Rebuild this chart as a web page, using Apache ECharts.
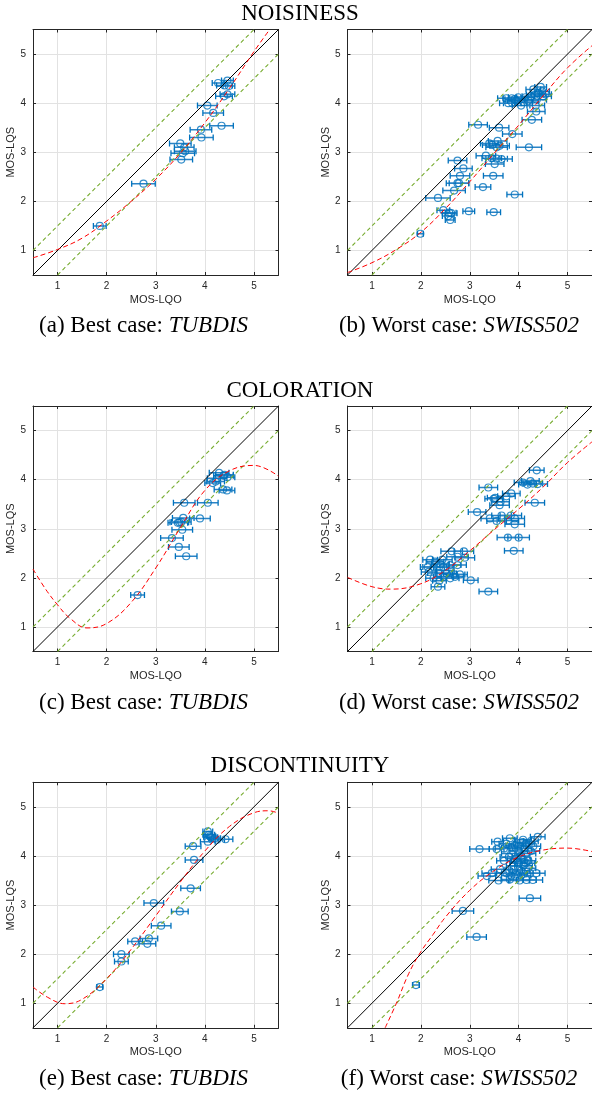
<!DOCTYPE html>
<html><head><meta charset="utf-8">
<script src="https://cdn.jsdelivr.net/npm/echarts@6/dist/echarts.min.js"></script>
<style>html,body{margin:0;padding:0;background:#fff}#c{width:592px;height:1095px}</style>
</head><body><div id="c"></div>
<script>
// ---------- data ----------
const tickValues = [1, 2, 3, 4, 5];
const axisMin = 0.5, axisMax = 5.5;
const sectionTitles = ['NOISINESS', 'COLORATION', 'DISCONTINUITY'];
const captionLead = ['(a) Best case: ', '(b) Worst case: ', '(c) Best case: ', '(d) Worst case: ', '(e) Best case: ', '(f) Worst case: '];
const captionName = ['TUBDIS', 'SWISS502', 'TUBDIS', 'SWISS502', 'TUBDIS', 'SWISS502'];
const refOffsets = [0.5, 0, -0.5];   // y = x + offset
const refSpan = [0.5, 5.5];

// [MOS-LQO, MOS-LQS, CI half-width]
const ptsA = [
 [1.86,1.50,0.13],[2.75,2.36,0.24],[3.52,2.85,0.23],[3.55,2.98,0.24],[3.60,3.02,0.22],
 [3.58,3.10,0.20],[3.50,3.18,0.22],[3.93,3.30,0.24],[3.92,3.46,0.22],[4.34,3.54,0.24],
 [4.17,3.80,0.21],[4.05,3.95,0.20],[4.39,4.14,0.17],[4.46,4.18,0.15],[4.27,4.41,0.12],
 [4.40,4.36,0.16],[4.46,4.46,0.12],[4.49,4.35,0.12]
];
const ptsB = [
 [1.99,1.34,0.06],[2.35,2.07,0.25],[2.46,1.82,0.13],[2.58,1.77,0.14],[2.62,1.76,0.12],
 [2.56,1.70,0.12],[2.60,1.62,0.10],[2.98,1.80,0.12],[3.49,1.78,0.14],[3.92,2.14,0.16],
 [2.68,2.22,0.23],[2.75,2.37,0.23],[2.78,2.37,0.20],[3.27,2.29,0.16],[2.80,2.52,0.20],
 [3.48,2.52,0.20],[2.87,2.67,0.18],[2.75,2.83,0.19],[3.33,2.93,0.20],[3.55,2.87,0.22],
 [3.51,2.76,0.19],[3.65,2.86,0.22],[3.45,2.88,0.20],[4.21,3.10,0.26],[3.57,3.23,0.19],
 [3.46,3.15,0.20],[3.40,3.18,0.18],[3.61,3.13,0.20],[3.55,3.10,0.22],[3.87,3.37,0.20],
 [3.60,3.50,0.20],[3.17,3.56,0.19],[4.27,3.66,0.20],[4.36,3.83,0.18],[3.75,4.10,0.18],
 [3.86,4.10,0.18],[3.99,4.12,0.20],[4.14,4.12,0.18],[4.25,4.14,0.18],[4.33,4.17,0.17],
 [4.45,4.33,0.12],[4.48,4.24,0.15],[4.50,4.14,0.17],[4.37,4.07,0.20],[4.05,3.95,0.18],
 [3.87,4.00,0.18],[3.79,4.00,0.18],[4.35,3.95,0.18],[4.20,4.05,0.20],[3.95,4.05,0.18],
 [4.10,4.02,0.18],[4.40,4.20,0.15],[4.55,4.18,0.12],[4.30,4.28,0.15],[3.92,4.08,0.20]
];
const ptsC = [
 [2.63,1.65,0.14],[3.62,2.44,0.22],[3.47,2.63,0.21],[3.33,2.81,0.23],[3.54,2.98,0.21],
 [3.45,3.12,0.20],[3.52,3.14,0.20],[3.48,3.13,0.19],[3.56,3.22,0.22],[3.90,3.21,0.21],
 [3.58,3.53,0.22],[4.06,3.53,0.21],[4.16,3.93,0.16],[4.25,4.03,0.20],[4.29,4.14,0.20],
 [4.38,4.08,0.20],[4.46,4.05,0.15],[4.40,4.10,0.18],[4.37,3.80,0.18],[4.45,3.78,0.16],
 [4.22,3.96,0.18]
];
const ptsD = [
 [3.38,1.72,0.19],[3.02,1.95,0.15],[2.35,1.82,0.14],[2.38,1.94,0.14],[2.19,2.37,0.15],
 [2.44,2.37,0.20],[2.63,2.54,0.22],[2.88,2.54,0.20],[2.75,2.43,0.22],[2.90,2.41,0.20],
 [2.26,2.22,0.22],[2.14,2.22,0.15],[2.46,2.22,0.20],[2.60,2.26,0.22],[2.75,2.26,0.18],
 [2.36,2.10,0.22],[2.53,2.09,0.20],[2.68,2.07,0.22],[2.80,2.07,0.15],[2.46,2.02,0.20],
 [2.60,1.99,0.18],[2.70,2.02,0.18],[2.26,1.99,0.16],[2.16,2.12,0.15],[2.29,2.33,0.18],
 [2.50,2.15,0.18],[2.40,2.28,0.18],[3.90,2.55,0.19],[3.78,2.82,0.22],[4.00,2.82,0.22],
 [3.92,3.09,0.20],[3.92,3.21,0.20],[3.78,3.17,0.22],[3.55,3.16,0.20],[3.41,3.21,0.18],
 [3.65,3.27,0.20],[3.84,3.27,0.22],[3.15,3.34,0.18],[3.61,3.48,0.20],[3.63,3.55,0.18],
 [4.33,3.53,0.20],[3.49,3.61,0.18],[3.52,3.63,0.16],[3.85,3.72,0.18],[3.75,3.66,0.18],
 [3.38,3.84,0.19],[4.09,3.94,0.18],[4.24,3.97,0.18],[4.29,3.92,0.20],[4.39,3.91,0.20],
 [4.18,3.90,0.18],[4.37,4.19,0.15]
];
const ptsE = [
 [1.86,1.33,0.06],[2.30,1.85,0.14],[2.30,2.00,0.16],[2.58,2.26,0.15],[2.83,2.21,0.17],
 [2.86,2.32,0.18],[3.11,2.58,0.20],[3.49,2.87,0.17],[2.96,3.04,0.20],[3.71,3.34,0.20],
 [3.78,3.92,0.18],[3.76,4.20,0.16],[4.06,4.50,0.10],[4.08,4.43,0.12],[4.12,4.38,0.14],
 [4.25,4.33,0.15],[4.42,4.34,0.15],[4.06,4.29,0.15],[4.20,4.36,0.12],[4.10,4.40,0.12]
];
const ptsF = [
 [1.90,1.37,0.07],[3.14,2.35,0.20],[2.86,2.88,0.22],[4.23,3.14,0.22],[3.20,4.14,0.20],
 [3.57,4.29,0.12],[3.82,4.36,0.15],[4.09,4.33,0.17],[4.39,4.39,0.15],[3.55,4.14,0.15],
 [3.70,4.15,0.18],[3.85,4.17,0.20],[4.00,4.20,0.20],[4.15,4.25,0.18],[4.25,4.30,0.15],
 [3.62,3.73,0.18],[3.45,3.65,0.20],[3.35,3.59,0.18],[3.59,3.50,0.20],[3.82,3.52,0.18],
 [4.02,3.50,0.20],[4.16,3.51,0.20],[4.29,3.51,0.20],[4.23,3.65,0.20],[4.36,3.65,0.18],
 [3.95,3.62,0.20],[3.75,3.65,0.20],[3.90,3.80,0.15],[4.00,3.85,0.18],[4.10,3.80,0.18],
 [4.20,3.90,0.15],[3.95,3.95,0.18],[4.05,4.00,0.18],[4.15,4.05,0.20],[4.25,4.10,0.18],
 [3.85,4.05,0.20],[3.80,3.98,0.18],[4.10,3.92,0.15],[4.20,3.75,0.15],[4.05,3.70,0.18],
 [3.90,3.72,0.18],[4.00,4.10,0.18],[3.92,4.22,0.18],[4.12,4.15,0.15],[4.30,4.20,0.15],
 [3.75,4.25,0.15],[4.05,3.60,0.20],[3.85,3.60,0.20],[4.15,3.85,0.18],[3.98,3.88,0.15],
 [4.08,4.28,0.15],[3.70,3.90,0.15]
];

// fitted mapping curves
const fitA = [[0.5,0.85],[1.0,1.02],[1.5,1.25],[2.0,1.6],[2.5,2.0],[3.0,2.45],[3.5,2.98],[4.0,3.6],[4.5,4.3],[5.0,5.05],[5.32,5.5]];
const fitB = [[0.5,0.55],[1.0,0.75],[1.5,1.02],[2.0,1.37],[2.5,1.85],[3.0,2.4],[3.5,2.98],[4.0,3.55],[4.5,4.15],[5.0,4.72],[5.5,5.17]];
const fitC = [[0.5,2.18],[0.75,1.78],[1.0,1.45],[1.25,1.18],[1.6,0.98],[2.0,1.07],[2.5,1.5],[3.0,2.2],[3.5,3.02],[4.0,3.78],[4.5,4.18],[5.0,4.29],[5.5,4.07]];
const fitD = [[0.5,2.01],[1.0,1.82],[1.4,1.77],[2.0,1.88],[2.5,2.15],[3.0,2.55],[3.5,2.98],[4.0,3.4],[4.5,3.85],[5.0,4.35],[5.5,4.77]];
const fitE = [[0.5,1.33],[0.8,1.12],[1.15,0.99],[1.5,1.08],[2.0,1.5],[2.5,2.1],[3.0,2.78],[3.5,3.47],[4.0,4.1],[4.5,4.6],[5.0,4.88],[5.3,4.92],[5.5,4.87]];
const fitF = [[1.27,0.5],[1.5,1.0],[1.75,1.6],[2.0,2.05],[2.25,2.4],[2.5,2.75],[3.0,3.3],[3.5,3.7],[4.0,3.98],[4.5,4.12],[5.0,4.16],[5.5,4.09]];

// ---------- layout / styles ----------
const SANS = 'Liberation Sans, Arial, sans-serif';
const SERIF = 'Liberation Serif, Times New Roman, serif';
const BLUE = '#0072BD', GREEN = '#77AC30', RED = '#FF0000', AXC = '#262626';
const panels = [
  {pts: ptsA, fit: fitA}, {pts: ptsB, fit: fitB},
  {pts: ptsC, fit: fitC}, {pts: ptsD, fit: fitD},
  {pts: ptsE, fit: fitE}, {pts: ptsF, fit: fitF}
];
const lefts = [33, 347.5];
const tops = [29.5, 406, 782.3];
const S = 245.5;

const grid = [], xAxis = [], yAxis = [], series = [];

function errItem(params, api) {
  const x = api.value(0), y = api.value(1), e = api.value(2);
  const p1 = api.coord([x - e, y]), p2 = api.coord([x + e, y]);
  const h = 3;
  return {type: 'group', children: [
    {type: 'line', shape: {x1: p1[0], y1: p1[1], x2: p2[0], y2: p2[1]}, style: {stroke: '#2a84c6', lineWidth: 1.5}},
    {type: 'line', shape: {x1: p1[0], y1: p1[1] - h, x2: p1[0], y2: p1[1] + h}, style: {stroke: BLUE, lineWidth: 1.3}},
    {type: 'line', shape: {x1: p2[0], y1: p2[1] - h, x2: p2[0], y2: p2[1] + h}, style: {stroke: BLUE, lineWidth: 1.3}}
  ]};
}

panels.forEach((p, i) => {
  grid.push({left: lefts[i % 2], top: tops[Math.floor(i / 2)], width: S, height: S});
  [false, true].forEach(second => {
    xAxis.push({
      type: 'value', gridIndex: i, min: axisMin, max: axisMax,
      position: second ? 'top' : 'bottom',
      name: second ? '' : 'MOS-LQO', nameLocation: 'middle', nameGap: 19,
      nameTextStyle: {fontFamily: SANS, fontSize: 11, color: AXC},
      axisLine: {show: true, onZero: false, lineStyle: {color: AXC, width: 1}},
      axisTick: {show: true, inside: true, length: 3, customValues: tickValues, lineStyle: {color: AXC}},
      axisLabel: {show: !second, customValues: tickValues, fontFamily: SANS, fontSize: 10, color: AXC, margin: 6},
      splitLine: {show: !second, lineStyle: {color: '#e2e2e2', width: 1}}
    });
    yAxis.push({
      type: 'value', gridIndex: i, min: axisMin, max: axisMax,
      position: second ? 'right' : 'left',
      name: second ? '' : 'MOS-LQS', nameLocation: 'middle', nameGap: 11,
      nameTextStyle: {fontFamily: SANS, fontSize: 11, color: AXC},
      axisLine: {show: true, onZero: false, lineStyle: {color: AXC, width: 1}},
      axisTick: {show: true, inside: true, length: 3, customValues: tickValues, lineStyle: {color: AXC}},
      axisLabel: {show: !second, customValues: tickValues, fontFamily: SANS, fontSize: 10, color: AXC, margin: 7},
      splitLine: {show: !second, lineStyle: {color: '#e2e2e2', width: 1}}
    });
  });
  const xi = 2 * i, yi = 2 * i;
  series.push({
    type: 'custom', xAxisIndex: xi, yAxisIndex: yi, renderItem: errItem,
    encode: {x: 0, y: 1}, data: p.pts, clip: true, z: 2, silent: true
  });
  series.push({
    type: 'scatter', xAxisIndex: xi, yAxisIndex: yi, symbol: 'circle', symbolSize: 7,
    itemStyle: {color: 'rgba(0,0,0,0)', borderColor: BLUE, borderWidth: 1.2},
    data: p.pts.map(q => [q[0], q[1]]), z: 3, silent: true
  });
  refOffsets.forEach(off => {
    const x0 = Math.max(refSpan[0], refSpan[0] - off), x1 = Math.min(refSpan[1], refSpan[1] - off);
    series.push({
      type: 'line', xAxisIndex: xi, yAxisIndex: yi, symbol: 'none', silent: true, z: 4,
      lineStyle: off === 0 ? {color: '#000', width: 1} : {color: GREEN, width: 1.1, type: [4, 3], opacity: 1},
      itemStyle: {color: off === 0 ? '#000' : GREEN},
      data: [[x0, x0 + off], [x1, x1 + off]]
    });
  });
  series.push({
    type: 'line', xAxisIndex: xi, yAxisIndex: yi, symbol: 'none', silent: true, z: 5,
    smooth: 0.4, lineStyle: {color: RED, width: 1, type: [5, 3]}, itemStyle: {color: RED}, data: p.fit
  });
});

const graphic = [];
const titleY = [14, 390.5, 766];
sectionTitles.forEach((t, r) => graphic.push({
  type: 'text', x: 300, y: titleY[r],
  style: {text: t, fontFamily: SERIF, fontSize: 23, fill: '#000', align: 'center', verticalAlign: 'middle'}
}));
const capX = [143.5, 459];
const capY = [326, 702.5, 1078.5];
captionLead.forEach((c, i) => graphic.push({
  type: 'text', x: capX[i % 2], y: capY[Math.floor(i / 2)],
  style: {
    text: '{n|' + c + '}{i|' + captionName[i] + '}',
    align: 'center', verticalAlign: 'middle',
    rich: {
      n: {fontFamily: SERIF, fontSize: 23, fill: '#000', color: '#000'},
      i: {fontFamily: SERIF, fontSize: 23, fontStyle: 'italic', fill: '#000', color: '#000'}
    }
  }
}));

const chart = echarts.init(document.getElementById('c'), null, {renderer: 'canvas'});
chart.setOption({animation: false, backgroundColor: '#fff', grid, xAxis, yAxis, series, graphic});
</script></body></html>
